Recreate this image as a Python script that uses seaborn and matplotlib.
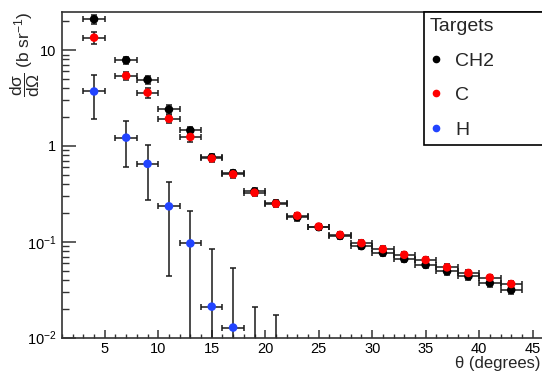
import matplotlib
matplotlib.use("Agg")
import matplotlib.pyplot as plt
from matplotlib.lines import Line2D
from matplotlib.ticker import FixedLocator, FixedFormatter, LogLocator, NullFormatter, MultipleLocator
import numpy as np
import pandas as pd
import seaborn as sns

# ---- data ----
theta = [4, 7, 9, 11, 13, 15, 17, 19, 21, 23, 25, 27, 29, 31, 33, 35, 37, 39, 41, 43]
theta_err = [1] * 20

ch2 = [21, 7.85, 4.9, 2.4, 1.45, 0.76, 0.52, 0.335, 0.252, 0.18, 0.142, 0.115,
       0.090, 0.0765, 0.066, 0.0573, 0.049, 0.0435, 0.037, 0.0313]
ch2_err = [2.2, 0.7, 0.5, 0.25, 0.14, 0.06, 0.04, 0.025, 0.018, 0.014, 0.01, 0.008,
           0.007, 0.006, 0.005, 0.0045, 0.004, 0.0035, 0.003, 0.0028]

c_vals = [13.5, 5.4, 3.6, 1.92, 1.24, 0.74, 0.505, 0.325, 0.249, 0.187, 0.144, 0.118,
          0.0966, 0.0835, 0.073, 0.0645, 0.054, 0.0472, 0.0422, 0.0362]
c_err = [1.8, 0.5, 0.4, 0.2, 0.13, 0.06, 0.04, 0.025, 0.018, 0.013, 0.01, 0.008,
         0.007, 0.006, 0.005, 0.0045, 0.004, 0.0035, 0.003, 0.0028]

theta_h = [4, 7, 9, 11, 13, 15, 17, 19, 21]
h_vals = [3.7, 1.22, 0.65, 0.234, 0.096, 0.021, 0.0127, 0.004, 0.003]
h_err = [1.8, 0.62, 0.38, 0.19, 0.114, 0.062, 0.041, 0.017, 0.014]

targets = ["CH2", "C", "H"]
colors = {"CH2": "#000000", "C": "#ff0000", "H": "#2244ff"}

x_ticks = [5, 10, 15, 20, 25, 30, 35, 40, 45]
y_ticks = [0.01, 0.1, 1, 10]
y_tick_labels = ["$10^{-2}$", "$10^{-1}$", "1", "10"]

# ---- style ----
sns.set_theme(style="ticks")
plt.rcParams["font.family"] = ["Liberation Sans", "DejaVu Sans"]
plt.rcParams["mathtext.fontset"] = "custom"
plt.rcParams["mathtext.rm"] = "Liberation Sans"
plt.rcParams["mathtext.it"] = "Liberation Sans"
plt.rcParams["mathtext.bf"] = "Liberation Sans:bold"

W, H = 542, 374
fig = plt.figure(figsize=(W / 100, H / 100), dpi=100)
fig.patch.set_facecolor("white")
ax = fig.add_axes([62 / W, 36.5 / H, 492 / W, 325.5 / H])

df = pd.concat([
    pd.DataFrame({"theta": theta, "xs": ch2, "target": "CH2"}),
    pd.DataFrame({"theta": theta, "xs": c_vals, "target": "C"}),
    pd.DataFrame({"theta": theta_h, "xs": h_vals, "target": "H"}),
], ignore_index=True)

ax.set_yscale("log")

series = [(theta, ch2, ch2_err), (theta, c_vals, c_err), (theta_h, h_vals, h_err)]
for xs_, ys_, es_ in series:
    ys_a = np.array(ys_)
    es_a = np.array(es_)
    lower = np.minimum(es_a, ys_a - 1e-5)
    ax.errorbar(xs_, ys_a, xerr=[1] * len(xs_), yerr=[lower, es_a], fmt="none",
                ecolor="#1a1a1a", elinewidth=1.1, capsize=2.0, capthick=1.1, zorder=2)

sns.scatterplot(data=df, x="theta", y="xs", hue="target", palette=colors,
                s=38, linewidth=0, ax=ax, legend=False, zorder=3)

ax.set_xlim(1, 47)
ax.set_ylim(0.01, 25)

ax.xaxis.set_major_locator(FixedLocator(x_ticks))
ax.xaxis.set_minor_locator(MultipleLocator(1))
ax.yaxis.set_major_locator(FixedLocator(y_ticks))
ax.yaxis.set_major_formatter(FixedFormatter(y_tick_labels))
ax.yaxis.set_minor_locator(LogLocator(base=10, subs=np.arange(2, 10)))
ax.yaxis.set_minor_formatter(NullFormatter())

ax.tick_params(axis="both", which="both", direction="in", colors="#333333",
               labelcolor="black", labelsize=10.5)
ax.tick_params(axis="y", which="major", length=10, width=1.1, pad=4)
ax.tick_params(axis="y", which="minor", length=5, width=1.0)
ax.tick_params(axis="x", which="major", length=6, width=1.1, pad=3)
ax.tick_params(axis="x", which="minor", length=3, width=1.0)

for sp in ax.spines.values():
    sp.set_color("#333333")
    sp.set_linewidth(1.2)
    sp.set_visible(True)

ax.set_ylabel("")
ax.set_xlabel("θ (degrees)", fontsize=12, ha="right", va="top")
ax.xaxis.set_label_coords((540 - 62) / 492, (337.5 - 356) / 325.5)

fig.text(25 / W, 1 - 11 / H, r"$\dfrac{d\sigma}{d\Omega}$ (b sr$^{-1}$)",
         rotation=90, ha="center", va="top", fontsize=12.5)

handles = [Line2D([], [], marker="o", ls="", color=colors[t], markersize=4.5) for t in targets]
leg = ax.legend(handles, targets, title="Targets", loc="upper left",
                bbox_to_anchor=(424 / W, 1 - 12 / H, 0.5, 0), bbox_transform=fig.transFigure,
                mode="expand", frameon=True, fancybox=False, edgecolor="black",
                borderaxespad=0, alignment="left", fontsize=14, title_fontsize=14,
                handlelength=0.6, handletextpad=0.7, labelspacing=0.88, borderpad=0.3)
leg.get_frame().set_linewidth(1.2)
leg.get_frame().set_facecolor("white")
leg.get_frame().set_alpha(1)

fig.savefig("out.png", dpi=100, facecolor="white")
